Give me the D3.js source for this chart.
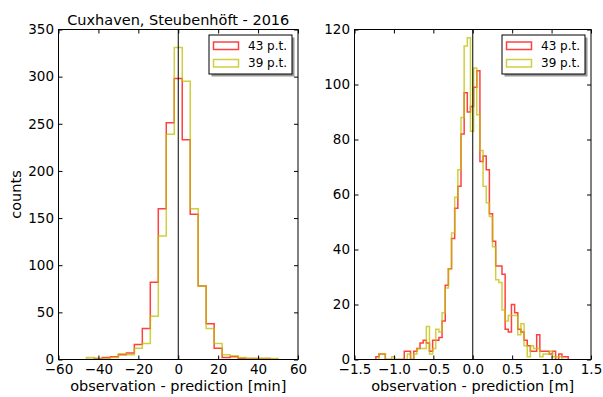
<!DOCTYPE html>
<html lang="en">
    <head>
        <meta charset="utf-8">
        <title>Cuxhaven, Steubenhöft - 2016</title>
        <script src="https://d3js.org/d3.v7.min.js"></script>
        <style>
            body {
                margin: 0;
                background: white;
            }
            text {
                font-family: "DejaVu Sans", sans-serif;
                fill: black;
            }
        </style>
    </head>
    <body>
        <script type="text/javascript">

            var outerWidth = 603;
            var outerHeight = 397;

            // time difference histogram, 4 min bins from -46 min
            var minBinStart = -46, minBinWidth = 4;
            var min43 = [0, 1, 2, 3, 5, 7, 16, 33, 82, 160, 251, 298, 233, 154, 78, 38, 12, 2, 3, 1, 1, 1, 1, 0];
            var min39 = [2, 1, 1, 2, 6, 5, 12, 17, 46, 131, 239, 331, 295, 160, 78, 33, 17, 5, 4, 2, 1, 1, 1, 1];

            // height difference histogram, 0.04 m bins from -1.229 m
            var mBinStart = -1.229, mBinWidth = 0.04;
            var m43 = [1, 2, 2, 0, 0, 0, 0, 0, 0, 3,
                       3, 0, 3, 4, 6, 7, 6, 3, 7, 7,
                       8, 14, 27, 33, 44, 55, 63, 82, 97, 90,
                       92, 99, 105, 72, 74, 69, 53, 43, 34, 34,
                       31, 11, 10, 20, 17, 11, 10, 7, 5, 3,
                       3, 9, 3, 3, 3, 2, 3, 0, 2, 1,
                       1];
            var m39 = [0, 2, 2, 0, 0, 1, 0, 0, 0, 0,
                       2, 0, 2, 4, 4, 4, 12, 2, 4, 11,
                       10, 17, 26, 33, 46, 59, 69, 88, 114, 117,
                       83, 106, 89, 76, 63, 57, 52, 41, 29, 28,
                       18, 14, 16, 16, 16, 9, 13, 5, 1, 5,
                       4, 4, 1, 2, 2, 3, 1, 1, 1, 0,
                       0];

            var seriesNames = ["43 p.t.", "39 p.t."];
            var seriesColors = ["#ff0000", "#bfbf00"];

            var minXTicks = [-60, -40, -20, 0, 20, 40, 60];
            var minYTicks = [0, 50, 100, 150, 200, 250, 300, 350];
            var mXTicks = [-1.5, -1.0, -0.5, 0.0, 0.5, 1.0, 1.5];
            var mYTicks = [0, 20, 40, 60, 80, 100, 120];

            var panels = [
                { left: 58.5, right: 298, xDomain: [-60, 60], yDomain: [0, 350],
                  xTicks: minXTicks, yTicks: minYTicks, xFormat: d3.format("d"),
                  binStart: minBinStart, binWidth: minBinWidth, series: [min43, min39],
                  xLabel: "observation - prediction [min]", yLabel: "counts",
                  title: "Cuxhaven, Steubenhöft - 2016" },
                { left: 354.5, right: 591, xDomain: [-1.5, 1.5], yDomain: [0, 120],
                  xTicks: mXTicks, yTicks: mYTicks, xFormat: d3.format(".1f"),
                  binStart: mBinStart, binWidth: mBinWidth, series: [m43, m39],
                  xLabel: "observation - prediction [m]" }
            ];

            // note: "top" is taken by window.top, so use other names
            var axTop = 29.5, axBottom = 359.5;
            var tickLen = 4;

            var svg = d3.select("body")
                        .append("svg")
                        .attr("width", outerWidth)
                        .attr("height", outerHeight);

            // step outline of a histogram, like histtype='step'
            function stepPoints(counts, start, width) {
                var pts = [[start, 0]];
                counts.forEach(function(c, i) {
                    pts.push([start + i * width, c]);
                    pts.push([start + (i + 1) * width, c]);
                });
                pts.push([start + counts.length * width, 0]);
                return pts;
            }

            panels.forEach(function(p) {

                var xScale = d3.scaleLinear().domain(p.xDomain).range([p.left, p.right]);
                var yScale = d3.scaleLinear().domain(p.yDomain).range([axBottom, axTop]);

                var g = svg.append("g");

                var clipId = "clip" + Math.round(p.left);
                g.append("clipPath").attr("id", clipId)
                    .append("rect")
                    .attr("x", p.left).attr("y", axTop)
                    .attr("width", p.right - p.left).attr("height", axBottom - axTop);

                var line = d3.line()
                    .x(function(d) { return xScale(d[0]); })
                    .y(function(d) { return yScale(d[1]); });

                var plot = g.append("g").attr("clip-path", "url(#" + clipId + ")");

                p.series.forEach(function(counts, i) {
                    plot.append("path")
                        .attr("d", line(stepPoints(counts, p.binStart, p.binWidth)))
                        .attr("fill", "none")
                        .attr("stroke", seriesColors[i])
                        .attr("stroke-opacity", 0.75)
                        .attr("stroke-width", 1.5);
                });

                // zero line
                plot.append("line")
                    .attr("x1", xScale(0)).attr("x2", xScale(0))
                    .attr("y1", axTop).attr("y2", axBottom)
                    .attr("stroke", "black")
                    .attr("stroke-width", 1);

                // axes, ticks pointing inward on all four sides
                var xAxis = g.append("g")
                    .attr("transform", "translate(0," + axBottom + ")")
                    .call(d3.axisBottom(xScale).tickValues(p.xTicks).tickFormat(p.xFormat)
                        .tickSize(-tickLen).tickPadding(5));
                g.append("g")
                    .attr("transform", "translate(0," + axTop + ")")
                    .call(d3.axisTop(xScale).tickValues(p.xTicks).tickFormat("").tickSize(-tickLen));
                var yAxis = g.append("g")
                    .attr("transform", "translate(" + p.left + ",0)")
                    .call(d3.axisLeft(yScale).tickValues(p.yTicks)
                        .tickSize(-tickLen).tickPadding(4.5));
                g.append("g")
                    .attr("transform", "translate(" + p.right + ",0)")
                    .call(d3.axisRight(yScale).tickValues(p.yTicks).tickFormat("").tickSize(-tickLen));

                g.selectAll(".domain").remove();
                g.selectAll(".tick line").attr("stroke", "black");
                xAxis.selectAll("text").style("font-size", "13.5px").attr("font-family", null);
                yAxis.selectAll("text").style("font-size", "13.5px").attr("font-family", null);

                g.append("rect")
                    .attr("x", p.left).attr("y", axTop)
                    .attr("width", p.right - p.left).attr("height", axBottom - axTop)
                    .attr("fill", "none")
                    .attr("stroke", "black")
                    .attr("stroke-width", 1);

                g.append("text")
                    .attr("x", (p.left + p.right) / 2)
                    .attr("y", 391)
                    .attr("text-anchor", "middle")
                    .style("font-size", "14.5px")
                    .text(p.xLabel);

                if (p.yLabel) {
                    g.append("text")
                        .attr("transform", "translate(21," + (axTop + axBottom) / 2 + ") rotate(-90)")
                        .attr("text-anchor", "middle")
                        .style("font-size", "14.5px")
                        .text(p.yLabel);
                }

                if (p.title) {
                    g.append("text")
                        .attr("x", (p.left + p.right) / 2)
                        .attr("y", 25)
                        .attr("text-anchor", "middle")
                        .style("font-size", "14.5px")
                        .text(p.title);
                }

                // legend with drop shadow
                var lx = p.right - 89, ly = 35, lw = 83, lh = 39;
                g.append("rect")
                    .attr("x", lx + 2.5).attr("y", ly + 2.5)
                    .attr("width", lw).attr("height", lh)
                    .attr("fill", "#999");
                g.append("rect")
                    .attr("x", lx).attr("y", ly)
                    .attr("width", lw).attr("height", lh)
                    .attr("fill", "white")
                    .attr("stroke", "black")
                    .attr("stroke-width", 1);

                seriesNames.forEach(function(name, i) {
                    var ey = ly + 10.5 + i * 17.5;
                    g.append("rect")
                        .attr("x", lx + 4.5).attr("y", ey - 3.5)
                        .attr("width", 25).attr("height", 7.5)
                        .attr("fill", "none")
                        .attr("stroke", seriesColors[i])
                        .attr("stroke-opacity", 0.75)
                        .attr("stroke-width", 1.5);
                    g.append("text")
                        .attr("x", lx + 39)
                        .attr("y", ey + 4.3)
                        .style("font-size", "12px")
                        .text(name);
                });
            });

        </script>
    </body>
</html>
